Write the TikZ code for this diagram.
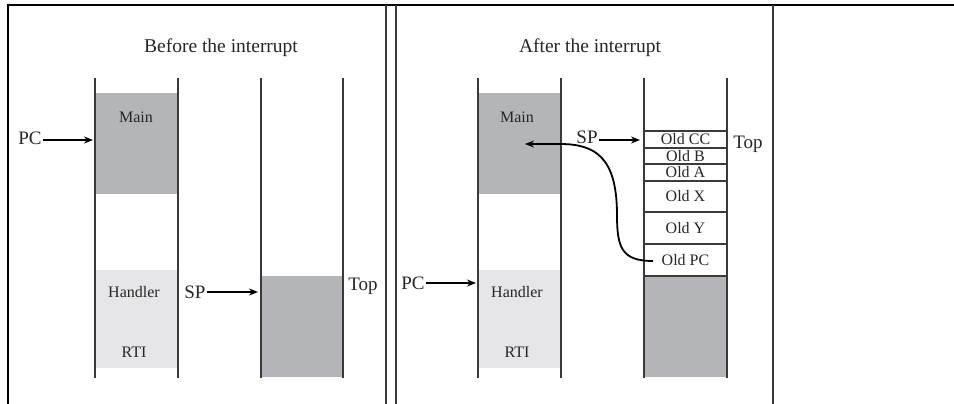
\documentclass[tikz,border=0pt]{standalone}
\usepackage{fontspec}
\setmainfont{Liberation Serif}
\usetikzlibrary{arrows.meta,positioning}
\definecolor{memDark}{HTML}{B4B5B8}
\definecolor{memLight}{HTML}{E6E6E8}
\definecolor{wallGray}{HTML}{3A3A3A}
\tikzstyle{title} = [font=\fontsize{19.5}{22}\selectfont, text=black!85]
\tikzstyle{lbl} = [font=\fontsize{16}{18}\selectfont, inner sep=0pt, text=black!85]
\tikzstyle{reg} = [font=\fontsize{19}{21}\selectfont, inner sep=0pt, text=black!85]
\tikzstyle{blockD} = [rectangle, fill=memDark, inner sep=0pt, minimum width=83pt]
\tikzstyle{blockL} = [rectangle, fill=memLight, inner sep=0pt, minimum width=83pt]
\tikzstyle{cell} = [lbl, rectangle, draw=wallGray, line width=1.2pt, minimum width=83pt]
\tikzstyle{wall} = [draw=wallGray, line width=1.3pt]
\tikzstyle{frame} = [draw=black, line width=2.2pt]
\tikzstyle{arrow} = [line width=1.8pt, -{Stealth[length=9pt,width=7pt]}]

\begin{document}
\begin{tikzpicture}[x=1pt, y=-1pt]
        \useasboundingbox (0,0) rectangle (954,404);
        % frame
        \draw [frame] (8,404) -- (8,5) -- (954,5);
        \draw [wall] (386,5) -- (386,404);
        \draw [wall] (396,5) -- (396,404);
        \draw [wall] (773,5) -- (773,404);

        % before the interrupt
        \node (titleB) [title] at (221,48) {Before the interrupt};
        \node (main1) [blockD, minimum height=101pt] at (136.5,143.5) {};
        \node (handler1) [blockL, minimum height=98pt] at (136.5,319) {};
        \node (stack1) [blockD, minimum height=101pt] at (302,326.5) {};
        \draw [wall] (95,78) -- (95,378);
        \draw [wall] (178,78) -- (178,378);
        \draw [wall] (261,78) -- (261,378);
        \draw [wall] (343,78) -- (343,378);
        \node (mainT1) [lbl] at (136,117) {Main};
        \node (handT1) [lbl] at (134,292) {Handler};
        \node (rtiT1) [lbl] at (134,352) {RTI};
        \node (top1) [reg] at (363,286) {Top};
        \node (pc1) [reg] at (30,138) {PC};
        \node (sp1) [reg] at (195,292) {SP};
        \coordinate (pcTip1) at (93,140);
        \coordinate (spTip1) at (258,292);
        \draw [arrow] ([xshift=1pt]pc1.east |- pcTip1) -- (pcTip1);
        \draw [arrow] ([xshift=1pt]sp1.east |- spTip1) -- (spTip1);

        % after the interrupt
        \node (titleA) [title] at (590,48) {After the interrupt};
        \node (main2) [blockD, minimum height=101pt] at (519.5,143.5) {};
        \node (handler2) [blockL, minimum height=98pt] at (519.5,319) {};
        \node (stack2) [blockD, minimum height=101pt] at (685.5,326.5) {};
        \draw [wall] (478,78) -- (478,378);
        \draw [wall] (561,78) -- (561,378);
        \draw [wall] (644,78) -- (644,378);
        \draw [wall] (727,78) -- (727,378);
        \node (mainT2) [lbl] at (517,117) {Main};
        \node (handT2) [lbl] at (517,292) {Handler};
        \node (rtiT2) [lbl] at (517,352) {RTI};
        \node (cCC) [cell, minimum height=17pt] at (685.5,139.5) {Old CC};
        \node (cB) [cell, minimum height=16pt] at (685.5,156) {Old B};
        \node (cA) [cell, minimum height=17pt] at (685.5,172.5) {Old A};
        \node (cX) [cell, minimum height=31pt] at (685.5,196.5) {Old X};
        \node (cY) [cell, minimum height=32pt] at (685.5,228) {Old Y};
        \node (cPC) [cell, minimum height=32pt] at (685.5,260) {Old PC};
        \node (top2) [reg] at (748,144) {Top};
        \node (pc2) [reg] at (413,283) {PC};
        \node (sp2) [reg] at (587,137) {SP};
        \coordinate (pcTip2) at (476,283);
        \coordinate (spTip2) at (640,140);
        \coordinate (retFrom) at (653,261);
        \coordinate (retTo) at (525,144);
        \draw [arrow] ([xshift=1pt]pc2.east |- pcTip2) -- (pcTip2);
        \draw [arrow] ([xshift=1pt]sp2.east |- spTip2) -- (spTip2);
        \draw [arrow] (retFrom) .. controls (622,261) and (617,248) .. (617,215)
              .. controls (617,158) and (596,144) .. (560,144) -- (retTo);
\end{tikzpicture}
\end{document}
